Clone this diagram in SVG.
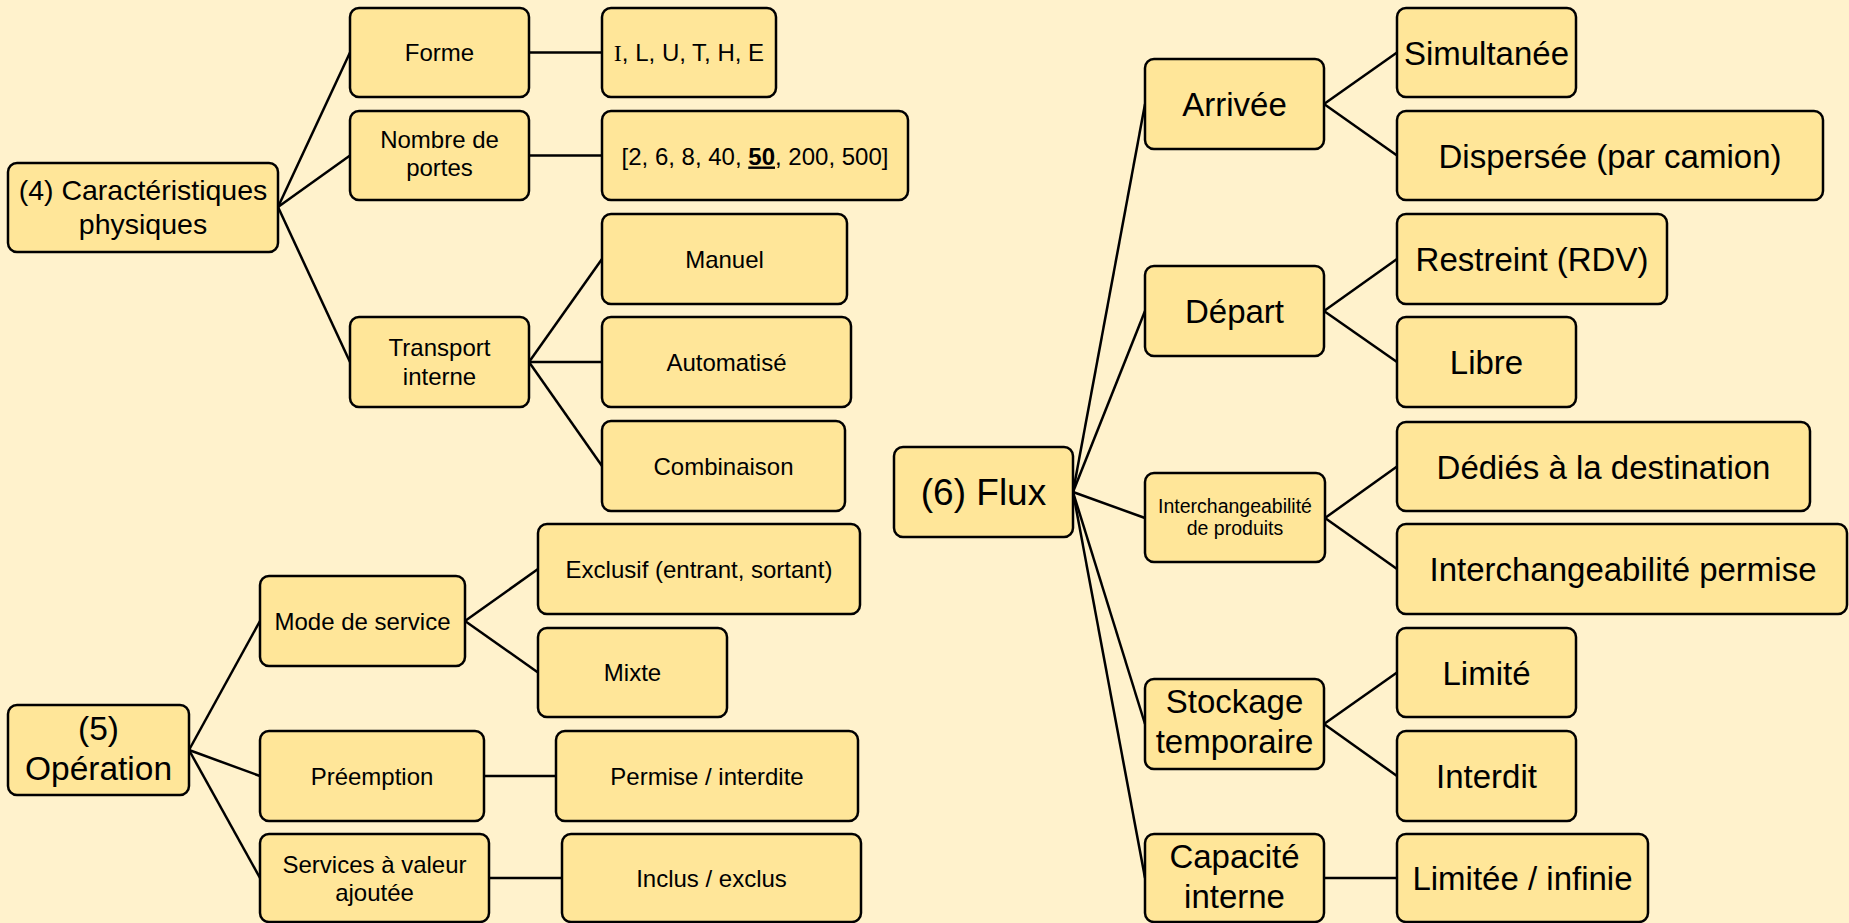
<svg xmlns="http://www.w3.org/2000/svg" width="1849" height="923" viewBox="0 0 1849 923">
<style>
.box{fill:#FFE699;stroke:#000;stroke-width:2.5}
.t{font-family:"Liberation Sans",Arial,sans-serif;text-anchor:middle;fill:#000}
.s{font-size:24px}
.r4{font-size:28.5px}
.r5{font-size:33.5px}
.r6{font-size:37px}
.m{font-size:33px}
.xs{font-size:19.5px}
.c line{stroke:#000;stroke-width:2.5}
</style>
<rect x="0" y="0" width="1849" height="923" fill="#FFF2CC"/>
<g class="c" id="connectors">
<line x1="278" y1="207" x2="350" y2="52.5"/>
<line x1="278" y1="207" x2="350" y2="155.5"/>
<line x1="278" y1="207" x2="350" y2="362"/>
<line x1="529" y1="52.5" x2="602" y2="52.5"/>
<line x1="529" y1="155.5" x2="602" y2="155.5"/>
<line x1="529" y1="362" x2="602" y2="259"/>
<line x1="529" y1="362" x2="602" y2="362"/>
<line x1="529" y1="362" x2="602" y2="466"/>
<line x1="189" y1="750" x2="260" y2="621"/>
<line x1="189" y1="750" x2="260" y2="776"/>
<line x1="189" y1="750" x2="260" y2="878"/>
<line x1="465" y1="621" x2="538" y2="569"/>
<line x1="465" y1="621" x2="538" y2="672.5"/>
<line x1="484" y1="776" x2="556" y2="776"/>
<line x1="489" y1="878" x2="562" y2="878"/>
<line x1="1073" y1="492" x2="1145" y2="104"/>
<line x1="1073" y1="492" x2="1145" y2="311"/>
<line x1="1073" y1="492" x2="1145" y2="518"/>
<line x1="1073" y1="492" x2="1145" y2="724"/>
<line x1="1073" y1="492" x2="1145" y2="878"/>
<line x1="1324" y1="104" x2="1397" y2="52.5"/>
<line x1="1324" y1="104" x2="1397" y2="155.5"/>
<line x1="1324" y1="311" x2="1397" y2="259"/>
<line x1="1324" y1="311" x2="1397" y2="362"/>
<line x1="1325" y1="518" x2="1397" y2="466.5"/>
<line x1="1325" y1="518" x2="1397" y2="569"/>
<line x1="1324" y1="724" x2="1397" y2="672.5"/>
<line x1="1324" y1="724" x2="1397" y2="776"/>
<line x1="1324" y1="878" x2="1397" y2="878"/>
</g>
<g id="n4"><rect class="box" x="8" y="163" width="270" height="89" rx="9"/><text class="t r4" x="143" y="200">(4) Caractéristiques</text><text class="t r4" x="143" y="234">physiques</text></g>
<g id="forme"><rect class="box" x="350" y="8" width="179" height="89" rx="9"/><text class="t s" x="439.5" y="61">Forme</text></g>
<g id="nombre"><rect class="box" x="350" y="111" width="179" height="89" rx="9"/><text class="t s" x="439.5" y="148">Nombre de</text><text class="t s" x="439.5" y="176">portes</text></g>
<g id="transport"><rect class="box" x="350" y="317" width="179" height="90" rx="9"/><text class="t s" x="439.5" y="356">Transport</text><text class="t s" x="439.5" y="385">interne</text></g>
<g id="iluthe"><rect class="box" x="602" y="8" width="174" height="89" rx="9"/><text class="t s" x="689" y="61"><tspan font-family="Liberation Serif,serif">I</tspan>, L, U, T, H, E</text></g>
<g id="portes"><rect class="box" x="602" y="111" width="306" height="89" rx="9"/><text class="t s" x="755" y="164.5">[2, 6, 8, 40, <tspan font-weight="bold" text-decoration="underline">50</tspan>, 200, 500]</text></g>
<g id="manuel"><rect class="box" x="602" y="214" width="245" height="90" rx="9"/><text class="t s" x="724.5" y="267.5">Manuel</text></g>
<g id="auto"><rect class="box" x="602" y="317" width="249" height="90" rx="9"/><text class="t s" x="726.5" y="370.5">Automatisé</text></g>
<g id="combi"><rect class="box" x="602" y="421" width="243" height="90" rx="9"/><text class="t s" x="723.5" y="474.5">Combinaison</text></g>
<g id="n5"><rect class="box" x="8" y="705" width="181" height="90" rx="9"/><text class="t r5" x="98.5" y="740">(5)</text><text class="t r5" x="98.5" y="780">Opération</text></g>
<g id="mode"><rect class="box" x="260" y="576" width="205" height="90" rx="9"/><text class="t s" x="362.5" y="629.5">Mode de service</text></g>
<g id="exclusif"><rect class="box" x="538" y="524" width="322" height="90" rx="9"/><text class="t s" x="699" y="577.5">Exclusif (entrant, sortant)</text></g>
<g id="mixte"><rect class="box" x="538" y="628" width="189" height="89" rx="9"/><text class="t s" x="632.5" y="681">Mixte</text></g>
<g id="preemption"><rect class="box" x="260" y="731" width="224" height="90" rx="9"/><text class="t s" x="372" y="784.5">Préemption</text></g>
<g id="permise"><rect class="box" x="556" y="731" width="302" height="90" rx="9"/><text class="t s" x="707" y="784.5">Permise / interdite</text></g>
<g id="services"><rect class="box" x="260" y="834" width="229" height="88" rx="9"/><text class="t s" x="374.5" y="873">Services à valeur</text><text class="t s" x="374.5" y="901">ajoutée</text></g>
<g id="inclus"><rect class="box" x="562" y="834" width="299" height="88" rx="9"/><text class="t s" x="711.5" y="886.5">Inclus / exclus</text></g>
<g id="n6"><rect class="box" x="894" y="447" width="179" height="90" rx="9"/><text class="t r6" x="983.5" y="505">(6) Flux</text></g>
<g id="arrivee"><rect class="box" x="1145" y="59" width="179" height="90" rx="9"/><text class="t m" x="1234.5" y="116">Arrivée</text></g>
<g id="simult"><rect class="box" x="1397" y="8" width="179" height="89" rx="9"/><text class="t m" x="1486.5" y="64.5">Simultanée</text></g>
<g id="disp"><rect class="box" x="1397" y="111" width="426" height="89" rx="9"/><text class="t m" x="1610" y="167.5">Dispersée (par camion)</text></g>
<g id="depart"><rect class="box" x="1145" y="266" width="179" height="90" rx="9"/><text class="t m" x="1234.5" y="323">Départ</text></g>
<g id="restreint"><rect class="box" x="1397" y="214" width="270" height="90" rx="9"/><text class="t m" x="1532" y="271">Restreint (RDV)</text></g>
<g id="libre"><rect class="box" x="1397" y="317" width="179" height="90" rx="9"/><text class="t m" x="1486.5" y="374">Libre</text></g>
<g id="interch"><rect class="box" x="1145" y="473" width="180" height="89" rx="9"/><text class="t xs" x="1235" y="513">Interchangeabilité</text><text class="t xs" x="1235" y="535">de produits</text></g>
<g id="dedies"><rect class="box" x="1397" y="422" width="413" height="89" rx="9"/><text class="t m" x="1603.5" y="478.5">Dédiés à la destination</text></g>
<g id="permise6"><rect class="box" x="1397" y="524" width="450" height="90" rx="9"/><text class="t m" x="1623" y="581">Interchangeabilité permise</text></g>
<g id="stockage"><rect class="box" x="1145" y="679" width="179" height="90" rx="9"/><text class="t m" x="1234.5" y="713">Stockage</text><text class="t m" x="1234.5" y="753">temporaire</text></g>
<g id="limite"><rect class="box" x="1397" y="628" width="179" height="89" rx="9"/><text class="t m" x="1486.5" y="684.5">Limité</text></g>
<g id="interdit"><rect class="box" x="1397" y="731" width="179" height="90" rx="9"/><text class="t m" x="1486.5" y="788">Interdit</text></g>
<g id="capacite"><rect class="box" x="1145" y="834" width="179" height="88" rx="9"/><text class="t m" x="1234.5" y="868">Capacité</text><text class="t m" x="1234.5" y="908">interne</text></g>
<g id="limitee"><rect class="box" x="1397" y="834" width="251" height="88" rx="9"/><text class="t m" x="1522.5" y="890">Limitée / infinie</text></g>
</svg>
